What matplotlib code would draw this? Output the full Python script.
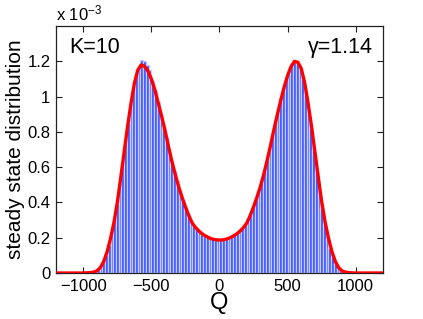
import matplotlib
matplotlib.use("Agg")
import matplotlib.pyplot as plt
import numpy as np

plt.rcParams['font.family'] = ['Liberation Sans', 'DejaVu Sans']
plt.rcParams['mathtext.fontset'] = 'custom'
plt.rcParams['mathtext.rm'] = 'Liberation Sans'
plt.rcParams['mathtext.it'] = 'Liberation Sans:italic'

# histogram (units of 1e-3), bins of width 20
hist_left_centers = list(range(-890, 0, 20))
hist_left_vals = [0.015, 0.03, 0.06, 0.10, 0.16, 0.22, 0.30, 0.39, 0.50, 0.62,
                  0.73, 0.85, 0.95, 1.05, 1.12, 1.17, 1.21, 1.20, 1.18, 1.15,
                  1.09, 1.04, 0.97, 0.90, 0.83, 0.77, 0.70, 0.635, 0.58, 0.52,
                  0.465, 0.415, 0.375, 0.335, 0.30, 0.272, 0.252, 0.236, 0.222, 0.212,
                  0.203, 0.197, 0.192, 0.189, 0.187]
hist_right_centers = list(range(10, 900, 20))
hist_right_vals = [0.186, 0.189, 0.193, 0.199, 0.206, 0.214, 0.226, 0.240, 0.257, 0.278,
                   0.305, 0.338, 0.378, 0.42, 0.47, 0.525, 0.585, 0.65, 0.715, 0.785,
                   0.855, 0.925, 0.99, 1.05, 1.11, 1.15, 1.185, 1.195, 1.19, 1.16,
                   1.10, 1.02, 0.93, 0.82, 0.70, 0.58, 0.46, 0.37, 0.28, 0.20,
                   0.14, 0.09, 0.055, 0.03, 0.015]
bin_width = 20

# theory curve (units of 1e-3)
curve_q = [-1200, -1000, -975, -950, -925, -900, -875, -850, -825, -800, -775, -750,
           -725, -700, -675, -650, -625, -600, -575, -550, -525, -500, -475, -450,
           -425, -400, -375, -350, -325, -300, -275, -250, -225, -200, -175, -150,
           -125, -100, -75, -50, -25, 0, 25, 50, 75, 100, 125, 150, 175, 200, 225,
           250, 275, 300, 325, 350, 375, 400, 425, 450, 475, 500, 525, 550, 575,
           600, 625, 650, 675, 700, 725, 750, 775, 800, 825, 850, 875, 900, 925,
           950, 975, 1000, 1200]
curve_p = [0, 0, 0.0005, 0.002, 0.005, 0.012, 0.03, 0.065, 0.12, 0.195, 0.285, 0.40,
           0.54, 0.685, 0.83, 0.96, 1.075, 1.15, 1.18, 1.172, 1.145, 1.10, 1.04, 0.965,
           0.89, 0.81, 0.72, 0.635, 0.56, 0.49, 0.43, 0.375, 0.325, 0.283, 0.257, 0.237,
           0.221, 0.209, 0.199, 0.192, 0.188, 0.187, 0.188, 0.192, 0.199, 0.209, 0.221, 0.237, 0.257, 0.283, 0.325,
           0.375, 0.43, 0.49, 0.56, 0.64, 0.725, 0.815, 0.90, 0.98, 1.055, 1.12, 1.17, 1.20, 1.195,
           1.16, 1.08, 0.965, 0.835, 0.69, 0.545, 0.405, 0.29, 0.198, 0.122, 0.066, 0.03, 0.012, 0.005,
           0.002, 0.0005, 0, 0]

xticks = [-1000, -500, 0, 500, 1000]
xtick_labels = ['\u22121000', '\u2212500', '0', '500', '1000']
yticks = [0, 0.2, 0.4, 0.6, 0.8, 1.0, 1.2]
ytick_labels = ['0', '0.2', '0.4', '0.6', '0.8', '1', '1.2']

fig = plt.figure(figsize=(4.23, 3.19), dpi=100)
ax = fig.add_axes([0.1324, 0.1442, 0.773, 0.774])

ax.bar(hist_left_centers + hist_right_centers, hist_left_vals + hist_right_vals,
       width=bin_width, color='#2a44ff', edgecolor='#c4cbff', linewidth=1.0, zorder=2)
ax.plot(curve_q, curve_p, color='#ff0000', lw=2.4, zorder=3, solid_capstyle='round')

ax.set_xlim(-1200, 1200)
ax.set_ylim(0, 1.4)
ax.set_xticks(xticks)
ax.set_xticklabels(xtick_labels)
ax.set_yticks(yticks)
ax.set_yticklabels(ytick_labels)
ax.tick_params(direction='in', length=4, width=0.8, labelsize=12, top=True, right=True,
               colors='#222222', labelcolor='black', pad=4)
for s in ax.spines.values():
    s.set_linewidth(0.9)
    s.set_color('#222222')

ax.set_xlabel('Q', fontsize=17, labelpad=-1)
ax.set_ylabel('steady state distribution', fontsize=15)
ax.yaxis.set_label_coords(-0.095, 0.5)

ax.text(0.04, 0.89, 'K=10', transform=ax.transAxes, fontsize=15.5, ha='left', va='baseline')
ax.text(0.97, 0.89, '\u03b3=1.14', transform=ax.transAxes, fontsize=15.5, ha='right', va='baseline')
ax.text(0.0, 1.025, 'x 10$^{-3}$', transform=ax.transAxes, fontsize=12, ha='left', va='baseline')

fig.savefig('out.png', dpi=100)
